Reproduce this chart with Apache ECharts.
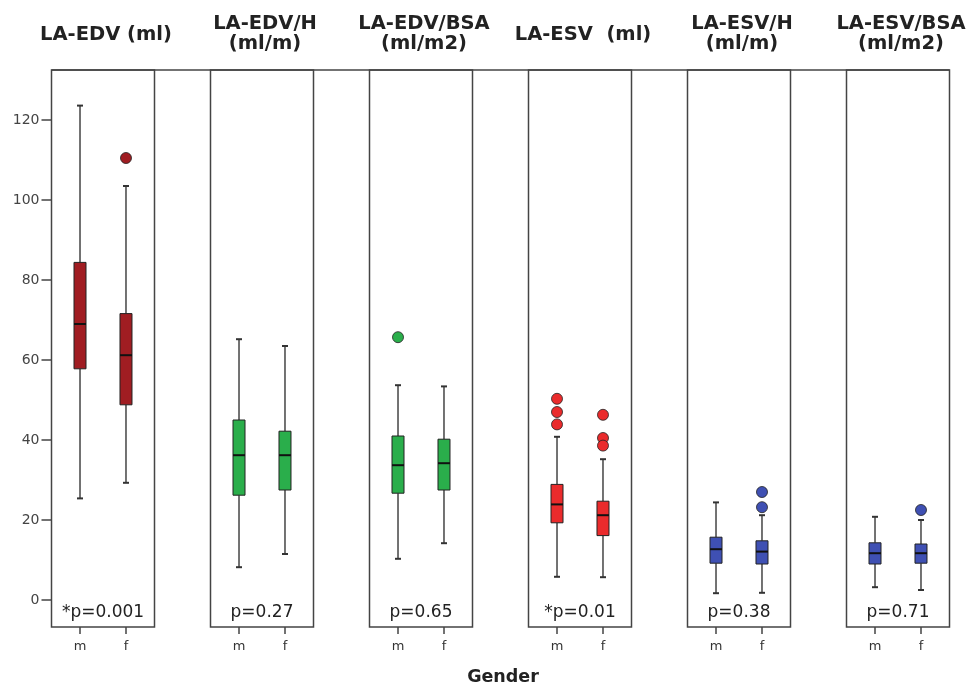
<!DOCTYPE html>
<html><head><meta charset="utf-8">
<script src="https://cdn.jsdelivr.net/npm/echarts@6/dist/echarts.min.js"></script>
<style>html,body{margin:0;padding:0;background:#fff}#c{width:968px;height:688px}</style>
</head><body><div id="c"></div>
<script>
// ---- data ----
const panelTitles = ['LA-EDV (ml)', 'LA-EDV/H\n(ml/m)', 'LA-EDV/BSA\n(ml/m2)', 'LA-ESV  (ml)', 'LA-ESV/H\n(ml/m)', 'LA-ESV/BSA\n(ml/m2)'];
const genders = ['m', 'f'];
const pValues = ['*p=0.001', 'p=0.27', 'p=0.65', '*p=0.01', 'p=0.38', 'p=0.71'];
const yTicks = [0, 20, 40, 60, 80, 100, 120];
const xAxisName = 'Gender';
// box statistics per gender: [min, Q1, median, Q3, max]
const edvBox      = [[25.4, 57.8, 69.0, 84.4, 123.6], [29.3, 48.8, 61.2, 71.6, 103.5]];
const edvHBox     = [[8.2, 26.2, 36.2, 45.0, 65.2],  [11.5, 27.5, 36.2, 42.2, 63.5]];
const edvBsaBox   = [[10.3, 26.7, 33.7, 41.0, 53.7], [14.2, 27.5, 34.2, 40.2, 53.4]];
const esvBox      = [[5.8, 19.3, 23.9, 28.9, 40.8],  [5.7, 16.1, 21.2, 24.7, 35.2]];
const esvHBox     = [[1.7, 9.2, 12.7, 15.7, 24.4],   [1.8, 9.0, 12.1, 14.8, 21.2]];
const esvBsaBox   = [[3.2, 9.0, 11.7, 14.3, 20.8],   [2.5, 9.2, 11.7, 14.0, 20.0]];
// outliers per gender
const edvOut    = [[], [110.5]];
const edvHOut   = [[], []];
const edvBsaOut = [[65.7], []];
const esvOut    = [[50.3, 47.0, 43.9], [46.3, 40.5, 38.6]];
const esvHOut   = [[], [27.0, 23.2]];
const esvBsaOut = [[], [22.5]];

const boxes = [edvBox, edvHBox, edvBsaBox, esvBox, esvHBox, esvBsaBox];
const outliers = [edvOut, edvHOut, edvBsaOut, esvOut, esvHOut, esvBsaOut];
const colors = ['#a01d22', '#2aae4b', '#2aae4b', '#ea2b2c', '#3f50b3', '#3f50b3'];

// ---- layout ----
const G_LEFT = 51.5, G_STEP = 159, G_W = 103, G_TOP = 70, G_H = 557;
const Y_MIN = -6.75, Y_MAX = 132.5;
const ink = '#444';

const grids = [], xAxes = [], yAxes = [], series = [], titles = [];
boxes.forEach((box, i) => {
  const left = G_LEFT + i * G_STEP;
  const cx = left + G_W / 2;
  grids.push({ left: left, top: G_TOP, width: G_W, height: G_H, show: true, borderColor: ink, borderWidth: 1.5, backgroundColor: 'transparent' });
  xAxes.push({
    type: 'value', gridIndex: i, min: -0.62, max: 1.62, position: 'bottom',
    axisLine: { show: false, onZero: false }, splitLine: { show: false },
    axisTick: { show: true, customValues: [0, 1], length: 7, lineStyle: { color: ink, width: 1.5 } },
    axisLabel: { show: true, customValues: [0, 1], formatter: v => genders[Math.round(v)], color: '#333', fontSize: 13, fontFamily: 'DejaVu Sans', margin: 13 }
  });
  yAxes.push({
    type: 'value', gridIndex: i, min: Y_MIN, max: Y_MAX, position: 'left',
    axisLine: { show: false, onZero: false }, splitLine: { show: false },
    axisTick: { show: i === 0, customValues: yTicks, length: 10, lineStyle: { color: ink, width: 1.5 } },
    axisLabel: { show: i === 0, customValues: yTicks, color: '#444', fontSize: 14, fontFamily: 'DejaVu Sans', margin: 12 }
  });
  const color = colors[i];
  series.push({
    type: 'custom', xAxisIndex: i, yAxisIndex: i,
    encode: { x: 0, y: [1, 2, 3, 4, 5] },
    data: box.map((b, g) => [g].concat(b)),
    renderItem: function (params, api) {
      const x = api.value(0);
      const lo = api.coord([x, api.value(1)]);
      const q1 = api.coord([x, api.value(2)]);
      const md = api.coord([x, api.value(3)]);
      const q3 = api.coord([x, api.value(4)]);
      const hi = api.coord([x, api.value(5)]);
      const c = lo[0], bw = 12, cw = 6;
      return { type: 'group', children: [
        { type: 'line', shape: { x1: c, y1: hi[1], x2: c, y2: q3[1] }, style: { stroke: ink, lineWidth: 1.5 } },
        { type: 'line', shape: { x1: c, y1: q1[1], x2: c, y2: lo[1] }, style: { stroke: ink, lineWidth: 1.5 } },
        { type: 'line', shape: { x1: c - cw / 2, y1: hi[1], x2: c + cw / 2, y2: hi[1] }, style: { stroke: '#333', lineWidth: 2 } },
        { type: 'line', shape: { x1: c - cw / 2, y1: lo[1], x2: c + cw / 2, y2: lo[1] }, style: { stroke: '#333', lineWidth: 2 } },
        { type: 'rect', shape: { x: c - bw / 2, y: q3[1], width: bw, height: q1[1] - q3[1] }, style: { fill: color, stroke: '#222', lineWidth: 1 } },
        { type: 'line', shape: { x1: c - bw / 2, y1: md[1], x2: c + bw / 2, y2: md[1] }, style: { stroke: '#111', lineWidth: 2 } }
      ] };
    },
    z: 3
  });
  const outData = [];
  outliers[i].forEach((arr, g) => arr.forEach(v => outData.push([g, v])));
  series.push({
    type: 'scatter', xAxisIndex: i, yAxisIndex: i, data: outData,
    symbol: 'circle', symbolSize: 11,
    itemStyle: { color: color, opacity: 1, borderColor: '#222', borderWidth: 0.8 }, z: 4
  });
  const nLines = panelTitles[i].split('\n').length;
  titles.push({
    text: panelTitles[i], left: cx + 3, top: nLines === 1 ? 25 : 14, textAlign: 'center', padding: 0,
    textStyle: { fontFamily: 'DejaVu Sans', fontWeight: 'bold', fontSize: 19.5, color: '#222', lineHeight: 20 }
  });
  titles.push({
    text: pValues[i], left: cx, top: 604, textAlign: 'center', padding: 0,
    textStyle: { fontFamily: 'DejaVu Sans', fontWeight: 'normal', fontSize: 17, color: '#222', lineHeight: 17 }
  });
});
titles.push({
  text: xAxisName, left: 503, top: 668, textAlign: 'center', padding: 0,
  textStyle: { fontFamily: 'DejaVu Sans', fontWeight: 'bold', fontSize: 17.5, color: '#222', lineHeight: 18 }
});

const chart = echarts.init(document.getElementById('c'), null, { renderer: 'canvas' });
chart.setOption({
  animation: false,
  backgroundColor: '#fff',
  title: titles,
  grid: grids, xAxis: xAxes, yAxis: yAxes, series: series,
  graphic: [{
    type: 'line', z: 10,
    shape: { x1: G_LEFT, y1: G_TOP, x2: G_LEFT + 5 * G_STEP + G_W, y2: G_TOP },
    style: { stroke: ink, lineWidth: 1.5 }
  }]
});
</script></body></html>
